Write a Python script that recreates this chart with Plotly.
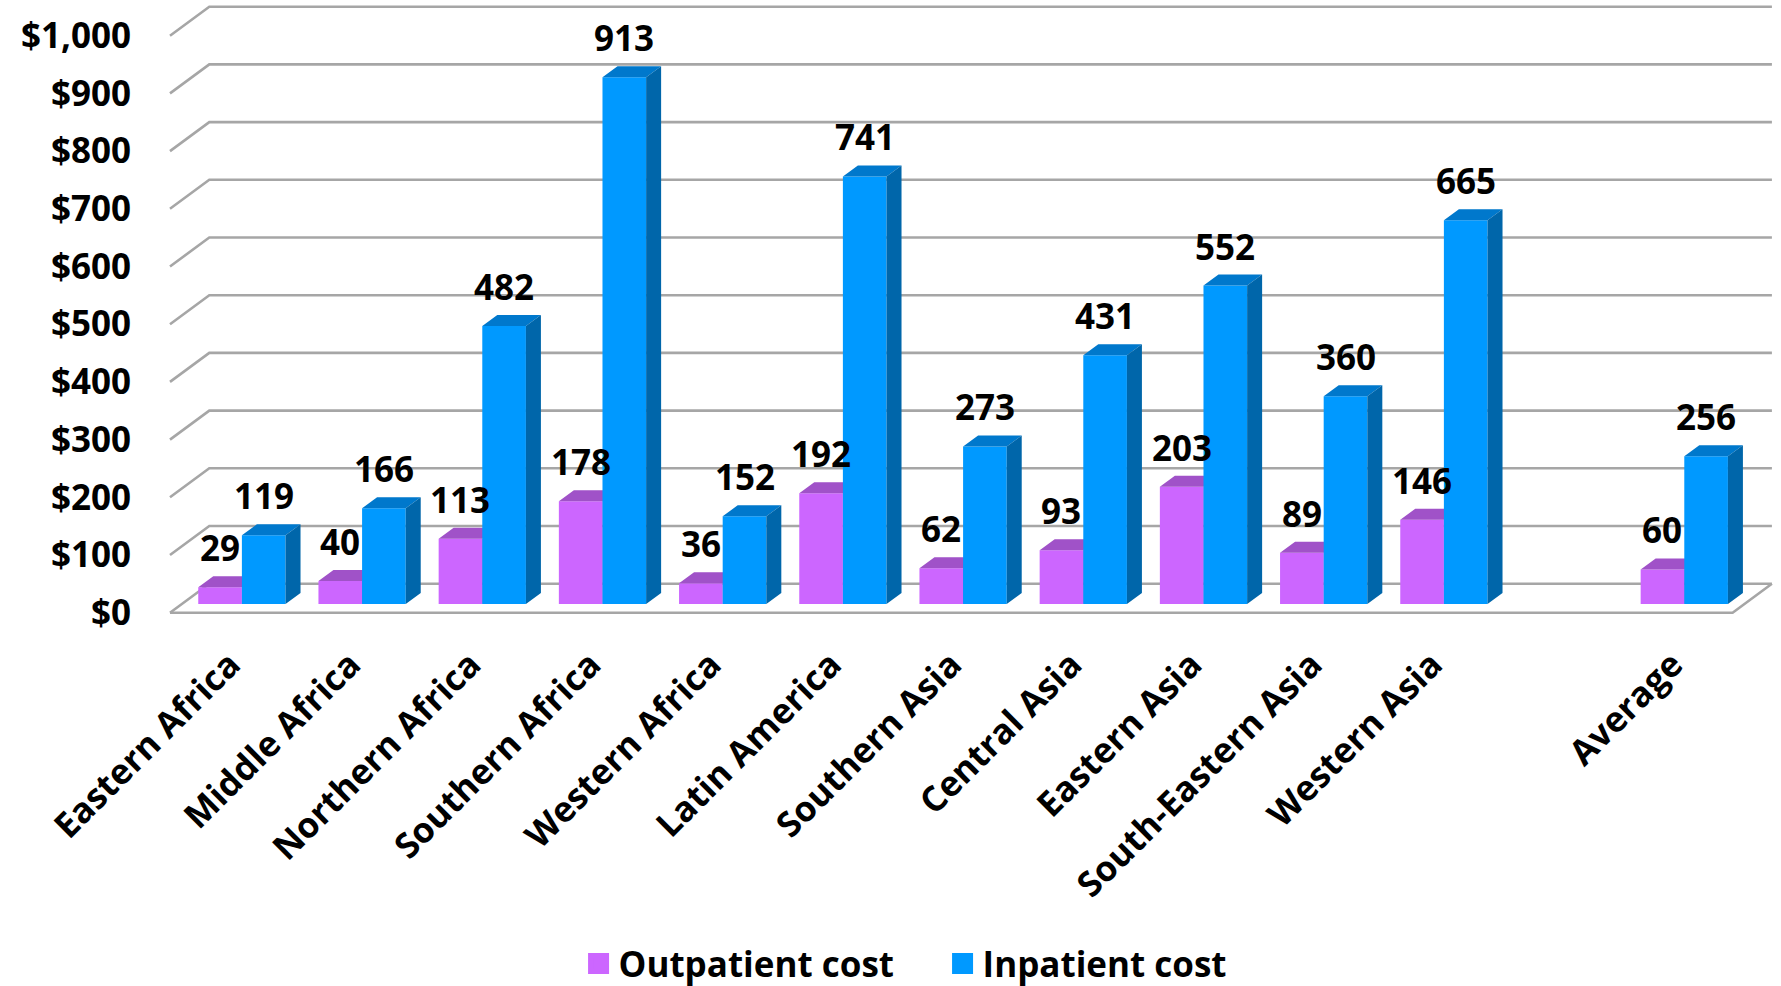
import plotly.graph_objects as go

# ---------------- data ----------------
categories = ["Eastern Africa", "Middle Africa", "Northern Africa", "Southern Africa",
              "Western Africa", "Latin America", "Southern Asia", "Central Asia",
              "Eastern Asia", "South-Eastern Asia", "Western Asia", "Average"]
positions = [0, 1, 2, 3, 4, 5, 6, 7, 8, 9, 10, 12]   # slot 11 left empty
outpatient = [29, 40, 113, 178, 36, 192, 62, 93, 203, 89, 146, 60]
inpatient = [119, 166, 482, 913, 152, 741, 273, 431, 552, 360, 665, 256]
y_ticks = [0, 100, 200, 300, 400, 500, 600, 700, 800, 900, 1000]
y_ticklabels = ["$0", "$100", "$200", "$300", "$400", "$500", "$600",
                "$700", "$800", "$900", "$1,000"]
series_names = ["Outpatient cost", "Inpatient cost"]

# ---------------- style / geometry ----------------
W_PX, H_PX = 1781, 986
SX = 120.2          # px per category slot
SY = 0.577          # px per dollar
X_FRONT_LEFT = 170  # px of front-left floor corner
Y_ZERO = 612.7      # px of $0 on the front plane
N_SLOTS = 13

DX, DY = 39.3 / SX, 29.0 / SY          # depth of the floor / walls
FDX, FDY = 0.30 * DX, 0.30 * DY        # where bar fronts sit in depth
BDX, BDY = 15.0 / SX, 11.0 / SY        # bar depth
BW = 0.363                             # bar width (slots)

ML, MR, MT, MB = 156, 6, 2, 350
x0 = -0.5 - (X_FRONT_LEFT - ML) / SX
x1 = x0 + (W_PX - ML - MR) / SX
plot_bottom = H_PX - MB
y0 = -(plot_bottom - Y_ZERO) / SY
y1 = (Y_ZERO - MT) / SY

FONT = "Open Sans"
FS = 35
GRID = "#A6A6A6"

colors = {
    0: dict(front="#CC66FF", top="#A052C8", side="#8E45B5"),
    1: dict(front="#0099FF", top="#0078CC", side="#0066AA"),
}

fig = go.Figure()

# gridlines: front-left diagonal + back wall line
gx, gy = [], []
xl, xr = -0.5, -0.5 + N_SLOTS
for t in y_ticks:
    gx += [xl, xl + DX, xr + DX, None]
    gy += [t, t + DY, t + DY, None]
# floor front and right edge
gx += [xl, xr, xr + DX, None]
gy += [0, 0, DY, None]
fig.add_trace(go.Scatter(x=gx, y=gy, mode="lines", line=dict(color=GRID, width=2.6),
                         hoverinfo="skip", showlegend=False, cliponaxis=False))


def faces(values, s):
    fx = {"front": [], "top": [], "side": []}
    fy = {"front": [], "top": [], "side": []}
    for c, v in zip(positions, values):
        left = c - BW + s * BW + FDX
        right = left + BW
        b = FDY
        t = FDY + v
        fx["front"] += [left, right, right, left, left, None]
        fy["front"] += [b, b, t, t, b, None]
        fx["top"] += [left, right, right + BDX, left + BDX, left, None]
        fy["top"] += [t, t, t + BDY, t + BDY, t, None]
        fx["side"] += [right, right + BDX, right + BDX, right, right, None]
        fy["side"] += [b, b + BDY, t + BDY, t, b, None]
    return fx, fy


for s, vals in enumerate([outpatient, inpatient]):
    fx, fy = faces(vals, s)
    order = ["side", "front", "top"] if s == 0 else ["front", "top", "side"]
    for f in order:
        fig.add_trace(go.Scatter(x=fx[f], y=fy[f], mode="lines", fill="toself",
                                 fillcolor=colors[s][f], line=dict(width=0, color=colors[s][f]),
                                 hoverinfo="skip", showlegend=False))

# data labels
for s, vals in enumerate([outpatient, inpatient]):
    for c, v in zip(positions, vals):
        cx = c - BW + s * BW + FDX + BW / 2
        fig.add_annotation(x=cx, y=FDY + v + BDY, text=str(v), showarrow=False,
                           xanchor="center", yanchor="bottom", yshift=3,
                           font=dict(family=FONT, size=FS, color="#000000", weight="bold"))

# legend entries
for s, name in enumerate(series_names):
    fig.add_trace(go.Scatter(x=[None], y=[None], mode="markers", name=name,
                             marker=dict(symbol="square", size=16, color=colors[s]["front"],
                                         line=dict(width=5, color=colors[s]["front"]))))

fig.update_layout(
    width=W_PX, height=H_PX,
    margin=dict(l=ML, r=MR, t=MT, b=MB, autoexpand=False),
    paper_bgcolor="white", plot_bgcolor="white",
    font=dict(family=FONT, size=FS, color="#000000", weight="bold"),
    showlegend=True,
    legend=dict(orientation="h", x=0.261, y=-0.517, xanchor="left", yanchor="middle",
                entrywidth=319, entrywidthmode="pixels",
                font=dict(family=FONT, size=FS, color="#000000", weight="bold"),
                bgcolor="rgba(0,0,0,0)", itemclick=False),
    xaxis=dict(range=[x0, x1], tickmode="array", tickvals=positions, ticktext=categories,
               tickangle=-45, showgrid=False, zeroline=False, showline=False, ticks="",
               tickfont=dict(family=FONT, size=FS, color="#000000", weight="bold"),
               fixedrange=True),
    yaxis=dict(range=[y0, y1], tickmode="array", tickvals=y_ticks, ticktext=y_ticklabels,
               showgrid=False, zeroline=False, showline=False, ticks="",
               ticklabelstandoff=24,
               tickfont=dict(family=FONT, size=FS, color="#000000", weight="bold"),
               fixedrange=True),
)

fig.write_html("out.html")
